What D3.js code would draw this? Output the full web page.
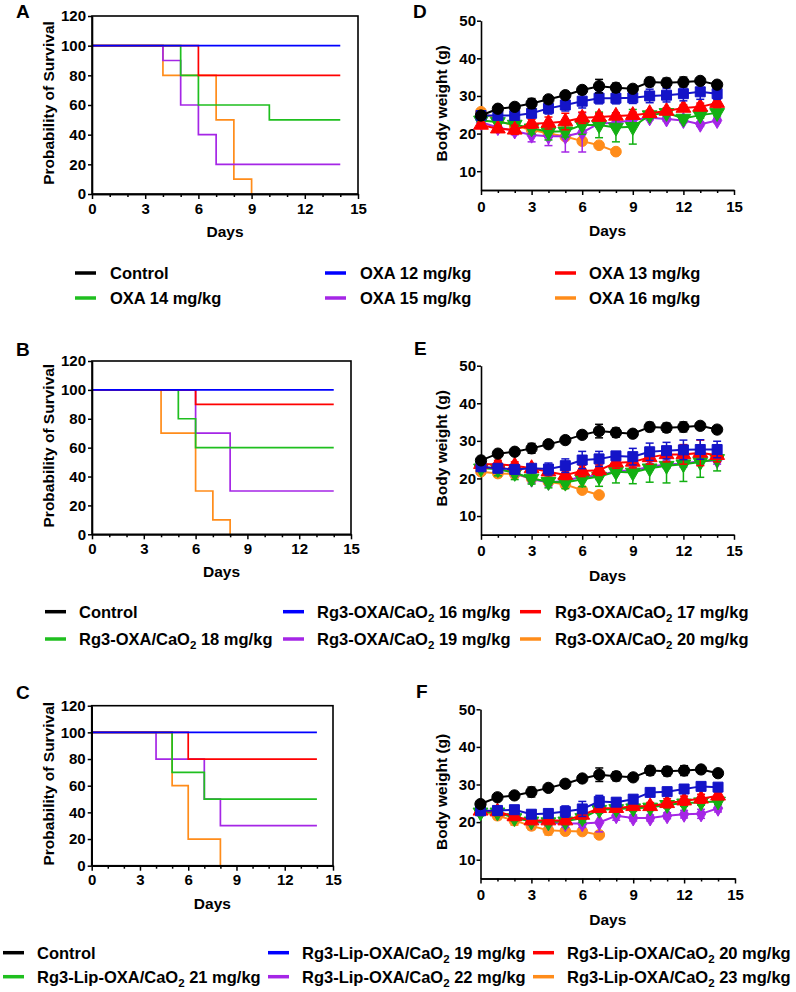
<!DOCTYPE html>
<html>
<head>
<meta charset="utf-8">
<script src="https://cdn.jsdelivr.net/npm/d3@7"></script>
<style>
body { margin: 0; background: #fff; }
text { font-family: "Liberation Sans", Arial, sans-serif; font-weight: bold; }
</style>
</head>
<body>
<script>
// ---- data ----
const days = [0,1,2,3,4,5,6,7,8,9,10,11,12,13,14];
const xTicks = [0,3,6,9,12,15];
const survTicks = [0,20,40,60,80,100,120];
const weightTicks = [10,20,30,40,50];

// survival curves: [day, % surviving] at each change
const survA12 = [[0,100],[14,100]];
const survA13 = [[0,100],[6,80],[14,80]];
const survA14 = [[0,100],[5,80],[6,60],[10,50],[14,50]];
const survA15 = [[0,100],[4,90],[5,60],[6,40],[7,20],[14,20]];
const survA16 = [[0,100],[4,80],[7,50],[8,10],[9,0]];

const survB16 = [[0,100],[14,100]];
const survB17 = [[0,100],[6,90],[14,90]];
const survB18 = [[0,100],[5,80],[6,60],[14,60]];
const survB19 = [[0,100],[6,70],[8,30],[14,30]];
const survB20 = [[0,100],[4,70],[6,30],[7,10],[8,0]];

const survC19 = [[0,100],[14,100]];
const survC20 = [[0,100],[6,80],[14,80]];
const survC21 = [[0,100],[5,70],[7,50],[14,50]];
const survC22 = [[0,100],[4,80],[7,50],[8,30],[14,30]];
const survC23 = [[0,100],[5,60],[6,20],[8,0]];

// body weight (g), mean and SD
const wCtrl  = [24.8,26.6,27.1,28.0,29.1,30.2,31.6,32.6,32.2,31.9,33.7,33.5,33.7,34.0,33.0];
const sdCtrl = [0.5,0.6,0.6,1.3,0.6,0.6,0.6,1.8,1.2,0.5,1.2,1.2,1.3,0.6,0.5];

const wD12 = [24.8,24.8,24.8,25.4,26.7,27.6,28.6,29.4,29.4,29.5,30.0,30.2,30.6,31.1,30.6];
const sdD12 = [0.5,0.5,0.7,1.2,1.5,1.6,1.8,1.5,1.5,1.5,1.8,1.8,1.9,2.0,1.5];
const wD13 = [22.3,21.3,21.0,22.6,22.8,23.2,24.2,24.4,24.7,24.9,25.4,26.0,26.8,27.1,28.1];
const sdD13 = [0.6,0.8,1.2,1.2,1.6,2.2,1.5,1.0,0.8,0.8,0.8,0.8,0.8,1.0,1.2];
const wD14 = [23.5,23.1,22.4,21.4,20.5,20.6,22.3,22.3,21.6,21.8,24.9,25.5,24.0,24.9,25.5];
const sdD14 = [0.5,0.8,1.0,1.5,2.2,1.5,2.5,3.4,3.8,4.6,0.8,0.8,0.8,0.8,0.8];
const wD15 = [23.0,21.6,20.7,19.6,19.3,19.3,20.3,22.7,22.9,23.6,24.2,23.9,23.5,22.5,23.5];
const sdD15 = [0.6,0.8,1.0,1.8,2.5,4.2,5.2,1.0,0.8,0.8,0.6,0.6,0.6,0.6,0.6];
const wD16 = [25.8,23.5,22.0,21.0,20.0,19.2,18.0,16.9,15.2];
const sdD16 = [0.8,0.5,0.5,0.5,0.8,0.5,0.5,0.5,0.5];

const wE16 = [23.1,22.7,22.4,22.7,22.5,23.4,24.9,25.2,26.0,25.8,27.1,27.4,27.6,27.7,27.7];
const sdE16 = [0.8,1.0,1.0,0.8,1.6,1.8,2.3,2.0,1.0,2.2,2.3,2.2,2.6,2.6,2.2];
const wE17 = [23.8,23.8,23.4,22.7,21.8,20.9,22.0,22.2,24.2,24.4,25.6,26.4,26.4,26.8,26.2];
const sdE17 = [0.8,1.0,1.0,0.8,1.0,1.2,1.5,1.4,1.5,1.6,1.8,2.0,2.6,3.4,1.8];
const wE18 = [22.7,22.5,21.5,20.0,19.1,18.9,19.8,20.5,21.8,21.6,22.7,23.4,23.8,24.4,25.2];
const sdE18 = [0.8,1.8,1.8,1.5,1.6,1.6,2.0,2.6,3.0,3.0,3.7,4.6,4.6,4.1,3.2];
const wE19 = [23.0,22.6,21.5,19.8,19.0,19.3,20.5,20.7,22.0,22.1,23.1,23.7,24.0,24.6,24.8];
const sdE19 = [0.8,0.8,1.0,1.0,1.0,1.0,1.0,1.0,0.8,0.8,0.8,1.0,1.0,1.0,1.0];
const wE20 = [21.8,21.3,21.2,20.0,19.1,18.4,16.9,15.6];
const sdE20 = [0.8,1.0,1.0,0.6,0.8,0.6,0.6,0.6];

const wF19 = [23.0,23.1,23.3,22.1,22.3,22.8,23.5,25.5,25.3,26.1,27.9,28.1,28.8,29.5,29.3];
const sdF19 = [0.8,0.8,1.0,1.0,1.0,1.5,2.0,1.6,1.0,1.0,0.8,0.8,0.8,0.8,0.8];
const wF20 = [23.0,22.8,21.5,20.4,20.4,20.4,21.9,23.7,23.7,24.2,24.2,25.0,25.7,26.2,27.0];
const sdF20 = [0.6,0.6,0.8,0.8,0.8,0.8,0.8,0.8,0.8,0.8,1.0,1.2,1.2,1.2,1.0];
const wF21 = [22.6,22.6,21.1,20.2,20.0,20.2,21.1,23.3,23.5,23.7,23.9,24.6,25.0,25.3,25.5];
const sdF21 = [0.6,0.8,0.8,0.8,0.8,0.8,1.2,0.8,0.8,0.8,0.8,0.8,0.8,0.8,0.8];
const wF22 = [22.8,22.5,21.5,20.0,19.8,19.6,19.6,19.9,21.7,21.1,21.1,21.7,22.1,22.2,23.7];
const sdF22 = [0.6,0.6,0.8,0.8,0.8,1.0,1.0,2.5,1.2,0.8,0.8,0.8,1.0,1.2,1.0];
const wF23 = [22.8,21.7,20.4,19.0,17.8,17.6,17.5,16.6];
const sdF23 = [0.6,1.0,1.2,1.0,1.2,0.8,0.6,0.6];

const legendA = ["Control","OXA 12 mg/kg","OXA 13 mg/kg","OXA 14 mg/kg","OXA 15 mg/kg","OXA 16 mg/kg"];
const legendB = ["Control","Rg3-OXA/CaO2 16 mg/kg","Rg3-OXA/CaO2 17 mg/kg","Rg3-OXA/CaO2 18 mg/kg","Rg3-OXA/CaO2 19 mg/kg","Rg3-OXA/CaO2 20 mg/kg"];
const legendC = ["Control","Rg3-Lip-OXA/CaO2 19 mg/kg","Rg3-Lip-OXA/CaO2 20 mg/kg","Rg3-Lip-OXA/CaO2 21 mg/kg","Rg3-Lip-OXA/CaO2 22 mg/kg","Rg3-Lip-OXA/CaO2 23 mg/kg"];

// ---- styles ----
const colLine = ["#000000","#0000ff","#ff0000","#1fbf1f","#a526e6","#ff8c1a"];
const colMark = ["#000000","#1414c8","#ff0000","#12b012","#a526e6","#ff8c1a"];
const shapes = [d3.symbolCircle, d3.symbolSquare, d3.symbolTriangle, d3.symbolTriangle, d3.symbolDiamond, d3.symbolCircle];
const shapeSize = [100, 100, 95, 95, 75, 90];

const svg = d3.select("body").append("svg")
  .attr("width", 796).attr("height", 992);

function panelLetter(x, y, t) {
  svg.append("text").attr("x", x).attr("y", y).attr("font-size", 19).text(t);
}

function styleAxis(g) {
  g.attr("font-size", 15).attr("font-family", null);
  g.selectAll("text").attr("fill", "#000");
  g.select(".domain").attr("stroke-width", 1.6);
  g.selectAll(".tick line").attr("stroke-width", 1.5);
}

function survival(p) {
  const x = d3.scaleLinear().domain([0, 15]).range([p.x0, p.x1]);
  const y = d3.scaleLinear().domain([0, 120]).range([p.y0, p.y1]);
  const g = svg.append("g");

  const line = d3.line().x(d => x(d[0])).y(d => y(d[1])).curve(d3.curveStepAfter);
  // drawn bottom-up: orange, purple, green, red, blue
  [5,4,3,2,1].forEach(i => {
    g.append("path").attr("d", line(p.series[i - 1]))
      .attr("fill", "none").attr("stroke", colLine[i]).attr("stroke-width", 1.7);
  });

  g.append("rect").attr("x", p.x0).attr("y", p.y1)
    .attr("width", p.x1 - p.x0).attr("height", p.y0 - p.y1)
    .attr("fill", "none").attr("stroke", "#000").attr("stroke-width", 1.6);

  g.append("g").attr("transform", `translate(0,${p.y0})`)
    .call(d3.axisBottom(x).tickValues(days.filter(d => d % 3 != 0)).tickFormat("").tickSize(3).tickSizeOuter(0))
    .call(styleAxis);
  g.append("g").attr("transform", `translate(0,${p.y0})`)
    .call(d3.axisBottom(x).tickValues(xTicks).tickSize(5).tickPadding(4).tickSizeOuter(0))
    .call(styleAxis);
  g.append("g").attr("transform", `translate(${p.x0},0)`)
    .call(d3.axisLeft(y).tickValues(survTicks).tickSize(4).tickPadding(2).tickSizeOuter(0))
    .call(styleAxis);

  g.append("text").attr("x", (p.x0 + p.x1) / 2).attr("y", p.y0 + 43)
    .attr("text-anchor", "middle").attr("font-size", 15.5).text("Days");
  g.append("text")
    .attr("transform", `translate(54,${(p.y0 + p.y1) / 2 - 2}) rotate(-90)`)
    .attr("text-anchor", "middle").attr("font-size", 15.5).text("Probability of Survival");
}

function weight(p) {
  const x = d3.scaleLinear().domain([0, 15]).range([p.x0, p.x1]);
  const y = d3.scaleLinear().domain([5, 50]).range([p.y0, p.y1]);
  const g = svg.append("g");

  g.append("g").attr("transform", `translate(0,${p.y0})`)
    .call(d3.axisBottom(x).tickValues(days.filter(d => d % 3 != 0)).tickFormat("").tickSize(3).tickSizeOuter(0))
    .call(styleAxis);
  g.append("g").attr("transform", `translate(0,${p.y0})`)
    .call(d3.axisBottom(x).tickValues(xTicks).tickSize(5).tickPadding(6).tickSizeOuter(0))
    .call(styleAxis);
  g.append("g").attr("transform", `translate(${p.x0},0)`)
    .call(d3.axisLeft(y).tickValues(weightTicks).tickSize(4).tickPadding(1).tickSizeOuter(0))
    .call(styleAxis);

  const line = d3.line().x((d, i) => x(days[i])).y(d => y(d));
  // bottom-up: orange, purple, green, red, blue, black
  [5,4,3,2,1,0].forEach(k => {
    const m = p.means[k], sd = p.sds[k], c = colMark[k];
    const s = g.append("g");
    m.forEach((v, i) => {
      const cx = x(days[i]);
      s.append("line").attr("x1", cx).attr("x2", cx)
        .attr("y1", y(v - sd[i])).attr("y2", y(v + sd[i]))
        .attr("stroke", c).attr("stroke-width", 1.5);
      [v - sd[i], v + sd[i]].forEach(e => {
        s.append("line").attr("x1", cx - 4).attr("x2", cx + 4)
          .attr("y1", y(e)).attr("y2", y(e))
          .attr("stroke", c).attr("stroke-width", 1.5);
      });
    });
    s.append("path").attr("d", line(m)).attr("fill", "none")
      .attr("stroke", c).attr("stroke-width", 2);
    m.forEach((v, i) => {
      s.append("path")
        .attr("d", d3.symbol().type(shapes[k]).size(shapeSize[k])())
        .attr("transform", `translate(${x(days[i])},${y(v)})${k == 3 ? " rotate(180)" : ""}`)
        .attr("fill", c).attr("stroke", c).attr("stroke-width", 1);
    });
  });

  g.append("text").attr("x", (p.x0 + p.x1) / 2).attr("y", p.y0 + 46)
    .attr("text-anchor", "middle").attr("font-size", 15.5).text("Days");
  g.append("text")
    .attr("transform", `translate(447,${(p.y0 + p.y1) / 2 - 2}) rotate(-90)`)
    .attr("text-anchor", "middle").attr("font-size", 15.5).text("Body weight (g)");
}

function legend(labels, cols, rows) {
  labels.forEach((t, i) => {
    const c = cols[i % 3], yy = rows[Math.floor(i / 3)];
    svg.append("line").attr("x1", c[0]).attr("x2", c[0] + 21)
      .attr("y1", yy).attr("y2", yy)
      .attr("stroke", colLine[i]).attr("stroke-width", 3.5);
    const tx = svg.append("text").attr("x", c[1]).attr("y", yy + 6).attr("font-size", 16.5);
    const parts = t.split("CaO2");
    if (parts.length == 2) {
      tx.append("tspan").text(parts[0] + "CaO");
      tx.append("tspan").attr("font-size", 11.5).attr("dy", 4).text("2");
      tx.append("tspan").attr("dy", -4).text(parts[1]);
    } else {
      tx.text(t);
    }
  });
}

// ---- panels ----
panelLetter(16, 18, "A");
survival({ x0: 92, x1: 358, y0: 194, y1: 16, series: [survA12, survA13, survA14, survA15, survA16] });
panelLetter(413, 18, "D");
weight({ x0: 481, x1: 734, y0: 190, y1: 20.7,
  means: [wCtrl, wD12, wD13, wD14, wD15, wD16], sds: [sdCtrl, sdD12, sdD13, sdD14, sdD15, sdD16] });
legend(legendA, [[75, 110], [325, 360], [555, 589]], [273, 298]);

panelLetter(16, 356, "B");
survival({ x0: 92, x1: 351, y0: 534.3, y1: 361, series: [survB16, survB17, survB18, survB19, survB20] });
panelLetter(414, 355, "E");
weight({ x0: 481, x1: 734, y0: 534.8, y1: 365.7,
  means: [wCtrl, wE16, wE17, wE18, wE19, wE20], sds: [sdCtrl, sdE16, sdE17, sdE18, sdE19, sdE20] });
legend(legendB, [[45, 79], [283, 317], [520, 555]], [611.7, 639]);

panelLetter(16, 699, "C");
survival({ x0: 91.7, x1: 333, y0: 865.7, y1: 705.7, series: [survC19, survC20, survC21, survC22, survC23] });
panelLetter(416, 698, "F");
weight({ x0: 480.5, x1: 735, y0: 878.5, y1: 709.3,
  means: [wCtrl, wF19, wF20, wF21, wF22, wF23], sds: [sdCtrl, sdF19, sdF20, sdF21, sdF22, sdF23] });
legend(legendC, [[3, 37], [268, 302], [533, 567]], [952.7, 976.7]);
</script>
</body>
</html>
